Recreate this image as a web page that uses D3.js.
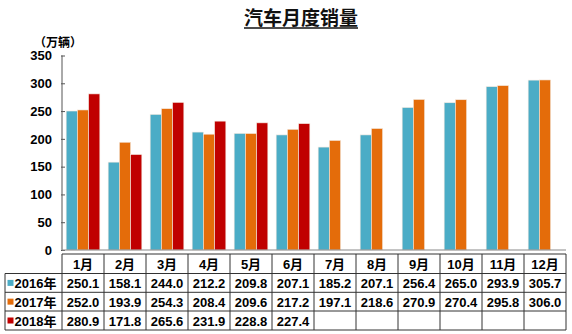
<!DOCTYPE html>
<html>
<head>
<meta charset="utf-8">
<script src="https://cdn.jsdelivr.net/npm/d3@7"></script>
<style>
  html, body { margin: 0; padding: 0; background: #fff; }
  svg text { font-family: "Liberation Sans", Arial, "Noto Sans CJK SC", sans-serif; font-weight: bold; fill: #000; }
</style>
</head>
<body>
<svg id="chart" width="572" height="334"></svg>
<script>
// Monthly vehicle sales (unit: 10k vehicles)
const months = ["1月","2月","3月","4月","5月","6月","7月","8月","9月","10月","11月","12月"];
const seriesNames = ["2016年","2017年","2018年"];
const sales2016 = [250.1,158.1,244.0,212.2,209.8,207.1,185.2,207.1,256.4,265.0,293.9,305.7];
const sales2017 = [252.0,193.9,254.3,208.4,209.6,217.2,197.1,218.6,270.9,270.4,295.8,306.0];
const sales2018 = [280.9,171.8,265.6,231.9,228.8,227.4];
const yTicks = [0,50,100,150,200,250,300,350];
const colors = ["#4BACC6","#E46C0A","#C00000"];

const series = [sales2016, sales2017, sales2018];
const svg = d3.select("#chart");

const plotLeft = 62, plotRight = 566, plotTop = 55.5, plotBottom = 250;

const x = d3.scaleBand().domain(months).range([plotLeft, plotRight]).paddingInner(0).paddingOuter(0);
const xInner = d3.scaleBand().domain(seriesNames).range([0, x.bandwidth()]).paddingOuter(0.37).paddingInner(0);
const y = d3.scaleLinear().domain([0, 350]).range([plotBottom, plotTop]);

// Title
const title = svg.append("text")
  .attr("x", 301).attr("y", 25)
  .attr("text-anchor", "middle")
  .style("font-size", "19px")
  .style("fill", "#111")
  .text("汽车月度销量");
const tw = title.node().getComputedTextLength();
svg.append("line")
  .attr("x1", 301 - tw / 2).attr("x2", 301 + tw / 2)
  .attr("y1", 28).attr("y2", 28)
  .attr("stroke", "#111").attr("stroke-width", 1.3);

// Unit label
svg.append("text")
  .attr("x", 34).attr("y", 47)
  .style("font-size", "12px")
  .text("（万辆）");

// Y axis
const yAxis = d3.axisLeft(y).tickValues(yTicks).tickSize(-4).tickPadding(10).tickFormat(d3.format("d"));
const gy = svg.append("g").attr("transform", `translate(${plotLeft},0)`).call(yAxis);
gy.select(".domain").attr("stroke", "#555").attr("d", `M0,${plotTop}V${plotBottom}`);
gy.selectAll(".tick line").attr("stroke", "#555").attr("x1", -1).attr("x2", 3);
gy.selectAll(".tick text")
  .style("font-size", "13px")
  .style("font-family", "'Liberation Sans', Arial, sans-serif")
  .style("font-weight", "bold");

// Bars
series.forEach((vals, si) => {
  svg.append("g").selectAll("rect")
    .data(vals.map((v, i) => ({ m: months[i], v })))
    .join("rect")
    .attr("x", d => x(d.m) + xInner(seriesNames[si]))
    .attr("width", xInner.bandwidth())
    .attr("y", d => y(d.v))
    .attr("height", d => y(0) - y(d.v))
    .attr("fill", colors[si])
    .attr("stroke", "#f4e9e0")
    .attr("stroke-width", 0.6);
});

// Zero line
svg.append("line")
  .attr("x1", plotLeft).attr("x2", plotRight)
  .attr("y1", y(0)).attr("y2", y(0))
  .attr("stroke", "#888").attr("stroke-width", 1);

// Data table
const rowEdges = [254, 273.5, 292.3, 311, 330];
const tableLeft = 5;
const tg = svg.append("g");
const stroke = "#333";

// horizontal lines
tg.append("line").attr("x1", plotLeft).attr("x2", plotRight).attr("y1", rowEdges[0]).attr("y2", rowEdges[0]).attr("stroke", stroke);
rowEdges.slice(1).forEach(yy => {
  tg.append("line").attr("x1", tableLeft).attr("x2", plotRight).attr("y1", yy).attr("y2", yy).attr("stroke", stroke);
});
// vertical lines
tg.append("line").attr("x1", tableLeft).attr("x2", tableLeft).attr("y1", rowEdges[1]).attr("y2", rowEdges[4]).attr("stroke", stroke);
months.forEach(m => {
  tg.append("line").attr("x1", x(m)).attr("x2", x(m)).attr("y1", rowEdges[0]).attr("y2", rowEdges[4]).attr("stroke", stroke);
});
tg.append("line").attr("x1", plotRight).attr("x2", plotRight).attr("y1", rowEdges[0]).attr("y2", rowEdges[4]).attr("stroke", stroke);

// month headers
tg.selectAll("text.month").data(months).join("text")
  .attr("class", "month")
  .attr("x", d => x(d) + x.bandwidth() / 2)
  .attr("y", (rowEdges[0] + rowEdges[1]) / 2 + 5)
  .attr("text-anchor", "middle")
  .style("font-size", "13px")
  .text(d => d);

// series rows
series.forEach((vals, si) => {
  const cy = (rowEdges[si + 1] + rowEdges[si + 2]) / 2;
  tg.append("rect")
    .attr("x", 7.5).attr("y", cy - 3)
    .attr("width", 6).attr("height", 6)
    .attr("fill", colors[si]);
  tg.append("text")
    .attr("x", 14.5).attr("y", cy + 5)
    .style("font-size", "13px")
    .text(seriesNames[si]);
  tg.selectAll(null).data(vals).join("text")
    .attr("x", (d, i) => x(months[i]) + x.bandwidth() / 2)
    .attr("y", cy + 5)
    .attr("text-anchor", "middle")
    .style("font-size", "13px")
    .text(d => d.toFixed(1));
});
</script>
</body>
</html>
